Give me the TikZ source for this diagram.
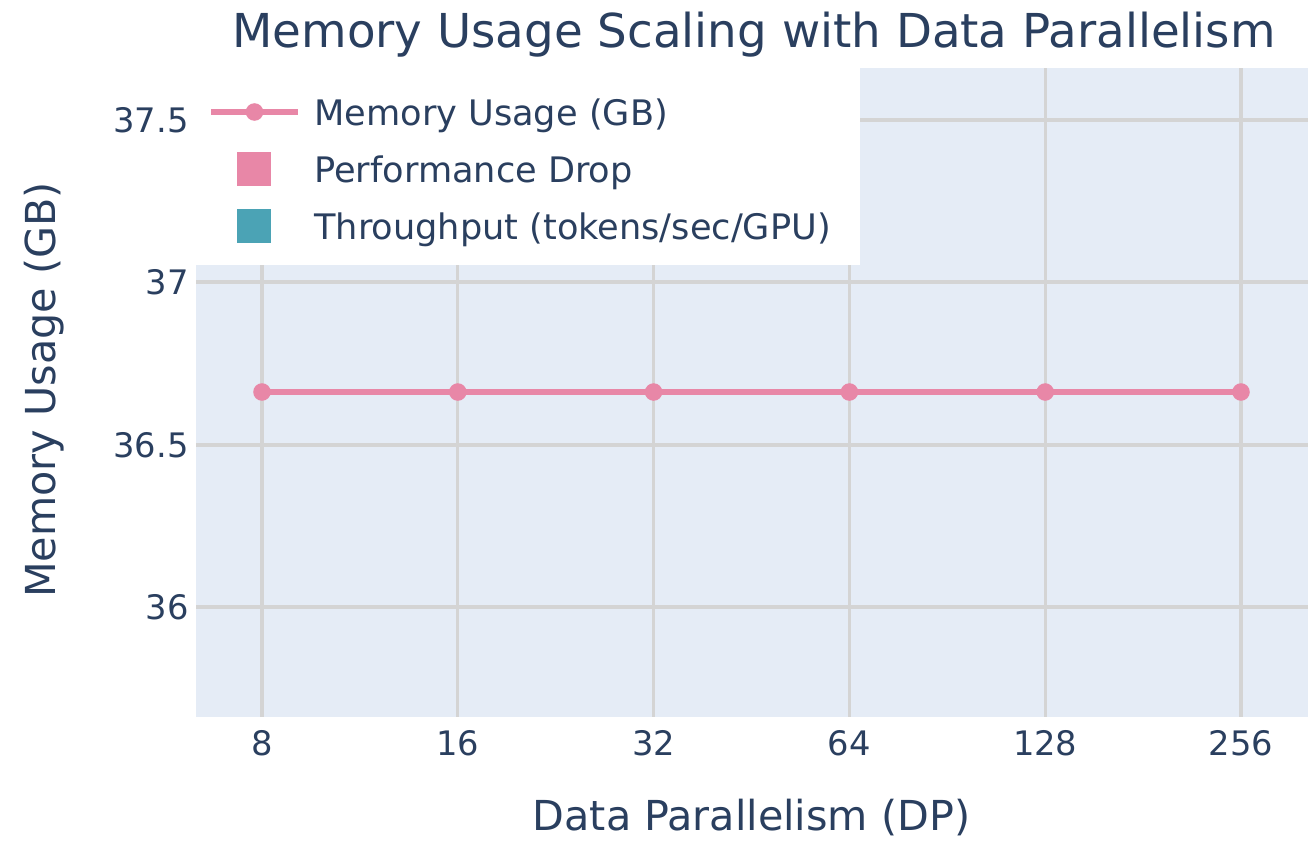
\documentclass[tikz,border=0pt]{standalone}
\usepackage{fontspec}
\setmainfont{DejaVu Sans}
\usepackage{tikz}
\usetikzlibrary{positioning}
\definecolor{plotbg}{RGB}{229, 236, 246}
\definecolor{gridgray}{RGB}{212, 212, 212}
\definecolor{inkblue}{RGB}{42, 63, 95}
\definecolor{memline}{RGB}{232, 135, 167}
\definecolor{tputteal}{RGB}{75, 163, 181}

\begin{document}
\begin{tikzpicture}[
    x=0.02cm, y=-0.02cm,
    txt/.style={text=inkblue, inner sep=0pt},
    ticklabel/.style={txt, font=\fontsize{19.2}{21}\selectfont},
    axistitle/.style={txt, font=\fontsize{23.5}{26}\selectfont},
    legendtext/.style={txt, font=\fontsize{20}{22}\selectfont, anchor=base west},
    gridline/.style={draw=gridgray, line width=1.8pt},
    memdot/.style={circle, fill=memline, inner sep=0pt, minimum size=10pt},
    swatch/.style={fill=#1, draw=white, line width=0.5pt, minimum size=20pt, inner sep=0pt}
]
\useasboundingbox[fill=white] (0,0) rectangle (1315,843);

% plot area
\fill[plotbg] (196,68) rectangle (1308,717);
\foreach \yy in {120,282,445,607}
    \draw[gridline] (196,\yy) -- (1308,\yy);
\foreach \xx in {262,457.8,653.6,849.4,1045.2,1241}
    \draw[gridline] (\xx,68) -- (\xx,717);

% ticks
\foreach \yy/\lab in {120/37.5,282/37,445/36.5,607/36}
    \node[ticklabel, anchor=base east] at (189,\yy+12.5) {\lab};
\foreach \xx/\lab in {262/8,457.8/16,653.6/32,849.4/64,1045.2/128,1241/256}
    \node[ticklabel, anchor=base] at (\xx,755) {\lab};

% data
\foreach \xx/\name in {262/d8,457.8/d16,653.6/d32,849.4/d64,1045.2/d128,1241/d256}
    \node[memdot] (\name) at (\xx,392) {};
\draw[memline, line width=3.3pt] (d8.center) -- (d16.center) -- (d32.center) -- (d64.center) -- (d128.center) -- (d256.center);

% legend
\fill[white] (196,68) rectangle (860,265);
\draw[memline, line width=3.3pt] (211,112) coordinate (legA) -- (298,112) coordinate (legB);
\node[memdot] (legdot) at (254.5,112) {};
\node[legendtext] (legmem) at (314,125) {Memory Usage (GB)};
\node[swatch=memline] (legperf) at (254,169) {};
\node[legendtext] (legperftxt) at (314,182) {Performance Drop};
\node[swatch=tputteal] (legtput) at (254,226) {};
\node[legendtext] (legtputtxt) at (314,239) {Throughput (tokens/sec/GPU)};

% titles
\node[txt, font=\fontsize{26.6}{30}\selectfont] (title) at (754,35) {Memory Usage Scaling with Data Parallelism};
\node[axistitle, anchor=base] (xtitle) at (751.5,830) {Data Parallelism (DP)};
\node[axistitle, rotate=90] (ytitle) at (44,390) {Memory Usage (GB)};
\end{tikzpicture}
\end{document}
